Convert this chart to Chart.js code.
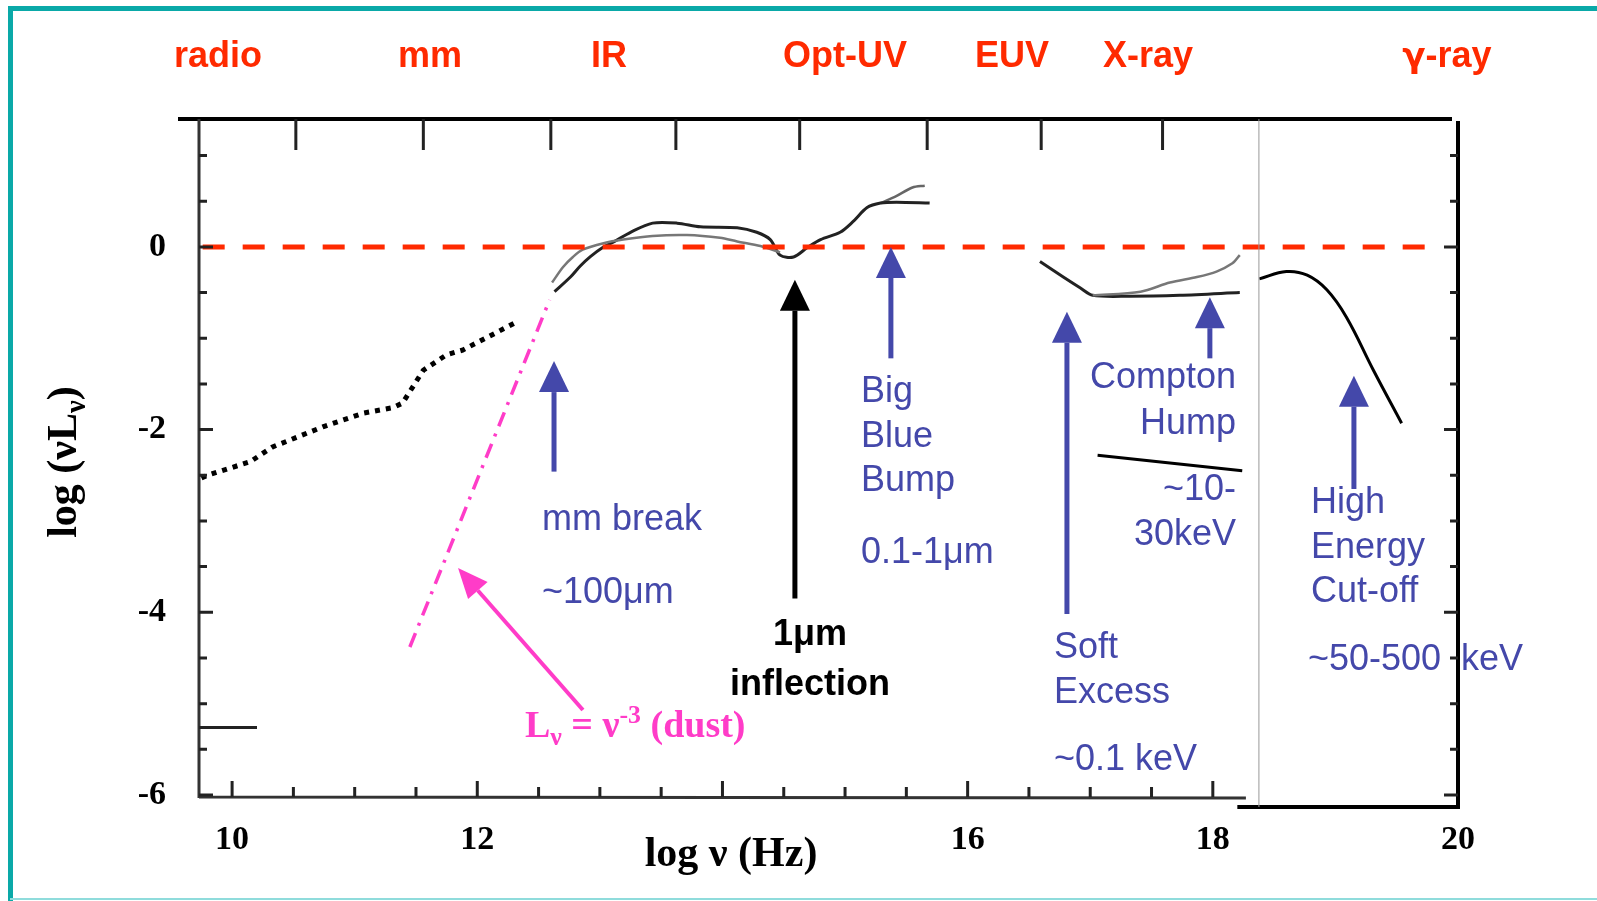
<!DOCTYPE html>
<html>
<head>
<meta charset="utf-8">
<script src="https://cdn.jsdelivr.net/npm/chart.js@4"></script>
<style>
  html, body { margin: 0; padding: 0; background: #fff; }
  canvas { display: block; }
</style>
</head>
<body>
<canvas id="sed" width="1597" height="901"></canvas>
<script>
// Axis ticks
const xTickValues = [10, 12, 16, 18, 20];
const yTickValues = [-6, -4, -2, 0];
const topTickValues = [10.52, 11.56, 12.60, 13.62, 14.63, 15.67, 16.60, 17.59];

// Wavebands along the top
const bandNames = ['radio', 'mm', 'IR', 'Opt-UV', 'EUV', 'X-ray', 'γ-ray'];
const bandLogNu = [9.885, 11.614, 13.074, 15.0, 16.361, 17.471, 19.909];

// Radio (dotted)
const radioLogNu = [9.75, 9.80, 10.15, 10.33, 10.74, 11.07, 11.31, 11.39, 11.56, 11.75, 11.88, 12.31];
const radioLogL  = [-2.53, -2.50, -2.35, -2.19, -1.97, -1.82, -1.76, -1.71, -1.35, -1.18, -1.13, -0.83];

// Dust slope, L ~ nu^-3 (dash-dot)
const dustLogNu = [11.45, 12.59];
const dustLogL  = [-4.38, -0.58];

// IR bump + big blue bump, main strand
const irLogNuA = [12.63, 12.76, 12.84, 12.92, 13.02, 13.12, 13.25, 13.43, 13.63, 13.82, 14.12, 14.28, 14.39, 14.47, 14.58, 14.69, 14.80, 14.96, 15.06, 15.18, 15.29, 15.42, 15.69];
const irLogLA  = [-0.49, -0.33, -0.21, -0.11, -0.01, 0.06, 0.16, 0.26, 0.26, 0.22, 0.21, 0.16, 0.08, -0.09, -0.11, -0.01, 0.08, 0.16, 0.27, 0.43, 0.48, 0.49, 0.48];
// second strand under the IR bump
const irLogNuB = [12.61, 12.70, 12.78, 12.86, 13.03, 13.19, 13.43, 13.71, 13.98, 14.12, 14.31, 14.47];
const irLogLB  = [-0.39, -0.22, -0.11, -0.03, 0.04, 0.08, 0.12, 0.13, 0.10, 0.06, 0.01, -0.06];
// upper tip of the blue bump
const uvLogNu = [15.29, 15.41, 15.55, 15.65];
const uvLogL  = [0.48, 0.55, 0.65, 0.67];

// X-ray soft excess / Compton hump
const xLowLogNu  = [16.59, 16.78, 16.92, 17.02, 17.32, 17.73, 18.22];
const xLowLogL   = [-0.16, -0.33, -0.45, -0.53, -0.54, -0.53, -0.50];
const xHighLogNu = [17.02, 17.41, 17.65, 17.87, 18.03, 18.16, 18.22];
const xHighLogL  = [-0.53, -0.49, -0.39, -0.33, -0.27, -0.18, -0.09];
const comptonLogNu = [17.06, 18.24];
const comptonLogL  = [-2.28, -2.45];

// Gamma-ray cut-off
const gammaLogNu = [18.38, 18.60, 18.77, 18.93, 19.09, 19.31, 19.54];
const gammaLogL  = [-0.35, -0.27, -0.31, -0.47, -0.77, -1.35, -1.93];

// Reference level
const zeroLogNu = [9.76, 19.8];
const zeroLogL  = [0, 0];

// Arrows (vertical): position, tail, tip
const arrowLogNu = [12.626, 15.374, 16.810, 17.976, 19.151, 14.591];
const arrowFrom  = [-2.46, -1.22, -4.02, -1.22, -2.65, -3.85];
const arrowTo    = [-1.25, 0.0, -0.71, -0.55, -1.41, -0.36];
const arrowInk   = ['blue', 'blue', 'blue', 'blue', 'blue', 'black'];

// Annotation texts
const noteTexts = ['mm break', '~100μm', 'Big', 'Blue', 'Bump', '0.1-1μm', 'Compton', 'Hump', '~10-', '30keV',
                   'High', 'Energy', 'Cut-off', '~50-500  keV', 'Soft', 'Excess', '~0.1 keV'];
const noteLogNu = [12.528, 12.528, 15.13, 15.13, 15.13, 15.13, 18.19, 18.19, 18.19, 18.19,
                   18.80, 18.80, 18.80, 18.776, 16.704, 16.704, 16.704];
const noteLogL  = [-3.10, -3.90, -1.70, -2.19, -2.67, -3.46, -1.54, -2.05, -2.77, -3.26,
                   -2.91, -3.41, -3.89, -4.63, -4.50, -4.99, -5.73];
const noteAlign = ['left', 'left', 'left', 'left', 'left', 'left', 'right', 'right', 'right', 'right',
                   'left', 'left', 'left', 'left', 'left', 'left', 'left'];

const BLUE = '#4448aa';
const RED = '#ff2a00';
const MAGENTA = '#ff3cc8';
const TEAL = '#0aa9a8';
const SANS = '"Liberation Sans", Arial, sans-serif';
const SERIF = '"Liberation Serif", "Times New Roman", serif';
const GREEK = '"DejaVu Sans", sans-serif';

function pts(xs, ys) {
    return xs.map((x, i) => ({ x: x, y: ys[i] }));
}

function curve(xs, ys, color, width, dash, tension) {
    return {
        data: pts(xs, ys),
        showLine: true,
        borderColor: color,
        borderWidth: width,
        borderDash: dash || [],
        borderCapStyle: 'butt',
        tension: tension || 0,
        pointRadius: 0,
        fill: false
    };
}

// text pieces with sub/superscripts (and optional font per piece)
function runFont(r, weight, family, size) {
    return weight + ' ' + (size * (r.scale || 1)) + 'px ' + (r.family || family);
}

function drawRuns(ctx, runs, x, y, weight, family, size) {
    let cx = x;
    runs.forEach(r => {
        ctx.font = runFont(r, weight, family, size);
        ctx.fillText(r.t, cx, y + (r.dy || 0) * size);
        cx += ctx.measureText(r.t).width;
    });
    return cx - x;
}

function runsWidth(ctx, runs, weight, family, size) {
    let w = 0;
    runs.forEach(r => {
        ctx.font = runFont(r, weight, family, size);
        w += ctx.measureText(r.t).width;
    });
    return w;
}

function arrow(ctx, x0, y0, x1, y1, color, shaft, headLen, headHalf) {
    const ang = Math.atan2(y1 - y0, x1 - x0);
    const bx = x1 - headLen * Math.cos(ang), by = y1 - headLen * Math.sin(ang);
    ctx.strokeStyle = color;
    ctx.fillStyle = color;
    ctx.lineWidth = shaft;
    ctx.lineCap = 'butt';
    ctx.beginPath();
    ctx.moveTo(x0, y0);
    ctx.lineTo(bx, by);
    ctx.stroke();
    ctx.beginPath();
    ctx.moveTo(x1, y1);
    ctx.lineTo(bx + headHalf * Math.sin(ang), by - headHalf * Math.cos(ang));
    ctx.lineTo(bx - headHalf * Math.sin(ang), by + headHalf * Math.cos(ang));
    ctx.closePath();
    ctx.fill();
}

const sedDecor = {
    id: 'sedDecor',
    beforeDraw(chart) {
        const ctx = chart.ctx;
        ctx.save();
        ctx.fillStyle = '#fff';
        ctx.fillRect(0, 0, chart.width, chart.height);
        // teal slide frame
        ctx.strokeStyle = TEAL;
        ctx.lineWidth = 5;
        ctx.beginPath();
        ctx.moveTo(1600, 8.5);
        ctx.lineTo(10.5, 8.5);
        ctx.lineTo(10.5, 901);
        ctx.stroke();
        ctx.strokeStyle = '#8fdcdc';
        ctx.lineWidth = 2;
        ctx.beginPath();
        ctx.moveTo(10, 899);
        ctx.lineTo(1597, 899);
        ctx.stroke();
        ctx.restore();
    },
    afterDraw(chart) {
        const ctx = chart.ctx;
        const xs = chart.scales.x, ys = chart.scales.y;
        const px = v => xs.getPixelForValue(v);
        const py = v => ys.getPixelForValue(v);
        const a = chart.chartArea;
        ctx.save();

        // frame
        ctx.lineCap = 'butt';
        ctx.strokeStyle = '#000';
        ctx.lineWidth = 4;
        ctx.beginPath();
        ctx.moveTo(a.left - 21, a.top);
        ctx.lineTo(a.right - 6, a.top);
        ctx.stroke();

        ctx.strokeStyle = '#333';
        ctx.lineWidth = 3;
        ctx.beginPath();
        ctx.moveTo(a.left, a.top);
        ctx.lineTo(a.left, a.bottom + 3);
        ctx.moveTo(a.left, a.bottom + 2);
        ctx.lineTo(px(18.27), a.bottom + 3);
        ctx.stroke();

        ctx.strokeStyle = '#000';
        ctx.lineWidth = 4;
        ctx.beginPath();
        ctx.moveTo(px(18.2), a.bottom + 12);
        ctx.lineTo(a.right, a.bottom + 12);
        ctx.moveTo(a.right, a.top + 2);
        ctx.lineTo(a.right, a.bottom + 14);
        ctx.stroke();

        ctx.strokeStyle = '#999';
        ctx.lineWidth = 1;
        ctx.beginPath();
        ctx.moveTo(px(18.376), a.top);
        ctx.lineTo(px(18.376), a.bottom + 12);
        ctx.stroke();

        // ticks
        ctx.strokeStyle = '#222';
        ctx.lineWidth = 3;
        ctx.beginPath();
        topTickValues.forEach(v => {
            ctx.moveTo(px(v), a.top);
            ctx.lineTo(px(v), a.top + 31);
        });
        for (let v = 10; v <= 18; v += 0.5) {
            const len = v % 2 === 0 ? 16 : 10;
            ctx.moveTo(px(v), a.bottom + 2);
            ctx.lineTo(px(v), a.bottom + 2 - len);
        }
        for (let v = -6; v <= 1; v += 0.5) {
            const len = v % 2 === 0 ? 14 : 8;
            ctx.moveTo(a.left, py(v));
            ctx.lineTo(a.left + len, py(v));
            ctx.moveTo(a.right, py(v));
            ctx.lineTo(a.right - len, py(v));
        }
        ctx.moveTo(a.left, py(-5.26));
        ctx.lineTo(a.left + 58, py(-5.26));
        ctx.stroke();

        // arrows
        arrowLogNu.forEach((v, i) => {
            const col = arrowInk[i] === 'blue' ? BLUE : '#000';
            arrow(ctx, px(v), py(arrowFrom[i]), px(v), py(arrowTo[i]), col, 5, 31, 15);
        });
        arrow(ctx, px(12.862), py(-5.069), px(11.843), py(-3.515), MAGENTA, 4, 30, 13);

        // waveband labels (greek letter taken from a font with a proper gamma)
        ctx.fillStyle = RED;
        ctx.textAlign = 'left';
        ctx.textBaseline = 'alphabetic';
        bandNames.forEach((n, i) => {
            const runs = n.charAt(0) === 'γ'
                ? [{ t: 'γ', family: GREEK, scale: 0.95 }, { t: n.slice(1) }]
                : [{ t: n }];
            const w = runsWidth(ctx, runs, 'bold', SANS, 36);
            drawRuns(ctx, runs, px(bandLogNu[i]) - w / 2, 67, 'bold', SANS, 36);
        });

        // blue notes
        ctx.fillStyle = BLUE;
        ctx.font = '36px ' + SANS;
        noteTexts.forEach((t, i) => {
            ctx.textAlign = noteAlign[i];
            ctx.fillText(t, px(noteLogNu[i]), py(noteLogL[i]));
        });

        // 1 micron inflection
        ctx.fillStyle = '#000';
        ctx.font = 'bold 36px ' + SANS;
        ctx.textAlign = 'center';
        ctx.fillText('1μm', px(14.714), py(-4.36));
        ctx.fillText('inflection', px(14.714), py(-4.905));

        // dust label
        ctx.fillStyle = MAGENTA;
        ctx.textAlign = 'left';
        drawRuns(ctx, [
            { t: 'L' }, { t: 'ν', scale: 0.68, dy: 0.22 }, { t: ' = ν' },
            { t: '-3', scale: 0.68, dy: -0.38 }, { t: ' (dust)' }
        ], px(12.389), py(-5.365), 'bold', SERIF, 38);

        // axis titles
        ctx.fillStyle = '#000';
        ctx.textAlign = 'left';
        const xt = [{ t: 'log ν (Hz)' }];
        const xw = runsWidth(ctx, xt, 'bold', SERIF, 42);
        drawRuns(ctx, xt, px(14.07) - xw / 2, 866, 'bold', SERIF, 42);

        const yt = [{ t: 'log (νL' }, { t: 'ν', scale: 0.68, dy: 0.22 }, { t: ')' }];
        const yw = runsWidth(ctx, yt, 'bold', SERIF, 42);
        ctx.translate(76, (a.top + a.bottom) / 2 + 5);
        ctx.rotate(-Math.PI / 2);
        drawRuns(ctx, yt, -yw / 2, 0, 'bold', SERIF, 42);

        ctx.restore();
    }
};

new Chart(document.getElementById('sed'), {
    type: 'scatter',
    data: {
        datasets: [
            curve(zeroLogNu, zeroLogL, RED, 5, [22, 18]),
            curve(radioLogNu, radioLogL, '#000', 5, [5, 6]),
            curve(dustLogNu, dustLogL, MAGENTA, 3.5, [15, 8, 3, 8]),
            curve(irLogNuB, irLogLB, '#777', 2.5, null, 0.3),
            curve(irLogNuA, irLogLA, '#222', 3, null, 0.3),
            curve(uvLogNu, uvLogL, '#666', 2.5, null, 0.3),
            curve(xHighLogNu, xHighLogL, '#777', 2.5, null, 0.3),
            curve(xLowLogNu, xLowLogL, '#222', 3, null, 0.3),
            curve(comptonLogNu, comptonLogL, '#000', 3),
            curve(gammaLogNu, gammaLogL, '#000', 3, null, 0.4)
        ]
    },
    options: {
        responsive: false,
        animation: false,
        devicePixelRatio: 1,
        layout: { padding: { top: 119, right: 139, bottom: 0, left: 0 } },
        plugins: { legend: { display: false }, tooltip: { enabled: false } },
        scales: {
            x: {
                type: 'linear', min: 9.73, max: 20,
                grid: { display: false, drawTicks: false },
                border: { display: false },
                afterFit: s => { s.height = 106; },
                afterBuildTicks: s => { s.ticks = xTickValues.map(v => ({ value: v })); },
                ticks: {
                    autoSkip: false, maxRotation: 0, padding: 25, color: '#000',
                    font: { family: SERIF, size: 34, weight: 'bold' },
                    callback: v => String(v)
                }
            },
            y: {
                type: 'linear', min: -6, max: 1.4,
                grid: { display: false, drawTicks: false },
                border: { display: false },
                afterFit: s => { s.width = 199; },
                afterBuildTicks: s => { s.ticks = yTickValues.map(v => ({ value: v })); },
                ticks: {
                    autoSkip: false, padding: 33, color: '#000',
                    font: { family: SERIF, size: 34, weight: 'bold' },
                    callback: v => String(v)
                }
            }
        }
    },
    plugins: [sedDecor]
});
</script>
</body>
</html>
